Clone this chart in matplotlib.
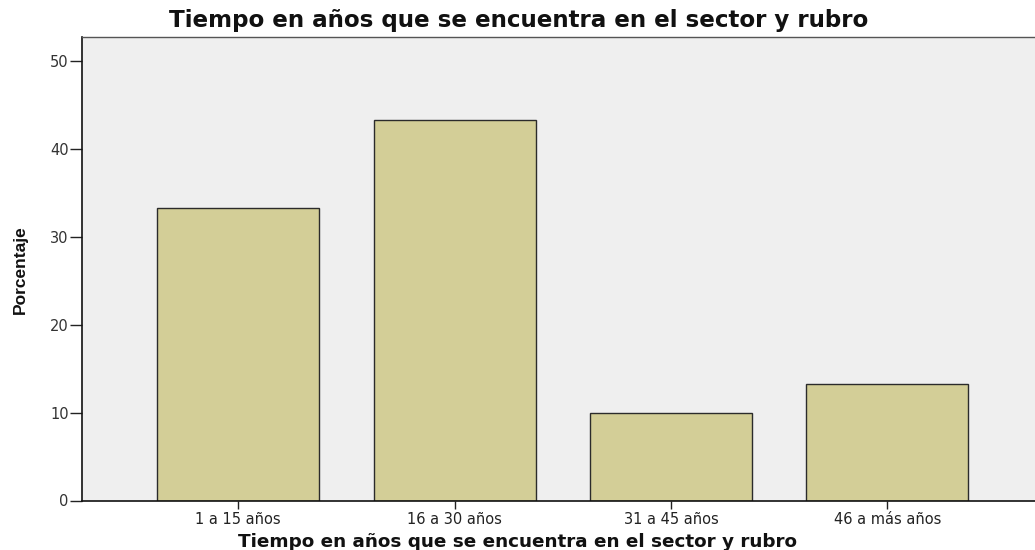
import matplotlib
matplotlib.use("Agg")
import matplotlib.pyplot as plt

categories = ["1 a 15 años", "16 a 30 años", "31 a 45 años", "46 a más años"]
values = [33.3, 43.3, 10.0, 13.3]
yticks = [0, 10, 20, 30, 40, 50]
title_text = "Tiempo en años que se encuentra en el sector y rubro"
xlabel_text = "Tiempo en años que se encuentra en el sector y rubro"
ylabel_text = "Porcentaje"

plt.rcParams['font.family'] = ['DejaVu Sans']

W, H = 1035, 550
fig = plt.figure(figsize=(W / 100, H / 100), dpi=100)
ax = fig.add_axes([82/W, 49.5/H, 1 - 82/W + 0.01, 463.5/H])
ax.set_facecolor("#EFEFEF")

x = list(range(len(categories)))
ax.bar(x, values, width=0.748, color="#D3CE97", edgecolor="#2b2b2b", linewidth=1.0, zorder=2)

ax.set_xlim(-0.722, 3.73)
ax.set_ylim(0, 52.7)
ax.set_yticks(yticks)
ax.set_xticks(x)
ax.set_xticklabels(categories, fontsize=10.5, color="#222222")
ax.set_yticklabels([str(t) for t in yticks], fontsize=10.5, color="#333333")
ax.tick_params(axis='y', length=8.5, width=1.0, color="#222222", pad=1)
ax.tick_params(axis='x', length=5.5, width=1.0, color="#222222", pad=2.5)

for s in ["left", "bottom"]:
    ax.spines[s].set_color("#111111")
    ax.spines[s].set_linewidth(1.2)
ax.spines["top"].set_color("#555555")
ax.spines["top"].set_linewidth(1.0)
ax.spines["right"].set_visible(False)

renderer = fig.canvas.get_renderer()

def fit(txt, target_px):
    fs = txt.get_fontsize()
    w = txt.get_window_extent(renderer).width
    txt.set_fontsize(fs * target_px / w)

t1 = fig.text(519/W, 1 - 20/H, title_text, ha="center", va="center",
              fontsize=13, fontweight="bold", color="#111111")
fit(t1, 698)
t2 = fig.text(517/W, 1 - 542/H, xlabel_text, ha="center", va="center",
              fontsize=12, fontweight="bold", color="#111111")
fit(t2, 560)
fig.text(20/W, 1 - 270/H, ylabel_text, rotation=90, ha="center", va="center",
         fontsize=12.5, fontweight="bold", color="#111111",
         family=['Liberation Sans Narrow', 'Liberation Sans', 'DejaVu Sans'])

fig.savefig("out.png", dpi=100)
